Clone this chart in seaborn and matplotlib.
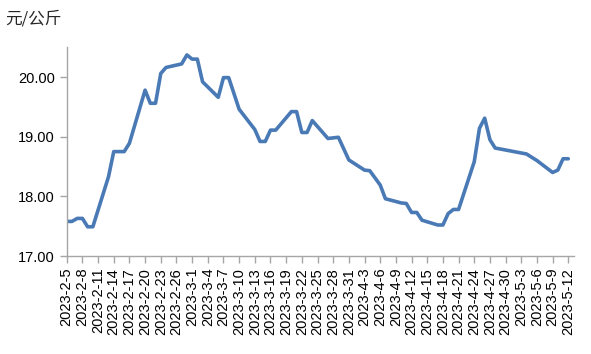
import numpy as np
import pandas as pd
import matplotlib
matplotlib.use("Agg")
import matplotlib.pyplot as plt
import seaborn as sns

# price vertices (day offset from 2023-2-5, yuan/kg)
start_date = pd.Timestamp("2023-02-05")
end_date = pd.Timestamp("2023-05-12")
days = [0, 1, 2, 3, 4, 5, 8, 9, 11, 12, 15, 16, 17, 18, 19, 22, 23, 24, 25, 26,
        29, 30, 31, 33, 36, 37, 38, 39, 40, 43, 44, 45, 46, 47, 50, 52, 54, 57,
        58, 60, 61, 64, 65, 66, 67, 68, 71, 72, 73, 74, 75, 78, 79, 80, 81, 82,
        88, 90, 93, 94, 95, 96]
prices = [17.58, 17.58, 17.63, 17.63, 17.49, 17.49, 18.33, 18.75, 18.75, 18.89,
          19.78, 19.56, 19.56, 20.06, 20.16, 20.22, 20.37, 20.30, 20.30, 19.92,
          19.66, 19.99, 19.99, 19.46, 19.12, 18.92, 18.92, 19.11, 19.11, 19.42,
          19.42, 19.07, 19.07, 19.27, 18.97, 18.99, 18.61, 18.44, 18.43, 18.19,
          17.96, 17.89, 17.88, 17.73, 17.73, 17.60, 17.52, 17.52, 17.71, 17.78,
          17.78, 18.58, 19.14, 19.31, 18.95, 18.81, 18.71, 18.60, 18.40, 18.44,
          18.63, 18.63]
yticks = [17.0, 18.0, 19.0, 20.0]
unit_label = "元/公斤"

df = pd.DataFrame({"day": days, "price": prices})

sns.set_style("ticks")
plt.rcParams["font.family"] = ["Liberation Sans", "Noto Sans CJK SC", "DejaVu Sans"]

fig = plt.figure(figsize=(5.91, 3.54), dpi=100)
ax = fig.add_axes([0.1129, 0.2768, 0.9704 - 0.1129, 0.8667 - 0.2768])

sns.lineplot(data=df, x="day", y="price", ax=ax, color="#4a7ab5", linewidth=2.6)

# tick every 3 days with dates like 2023-2-5
n_days = (end_date - start_date).days
tick_days = np.arange(0, n_days + 1, 3)
tick_dates = [start_date + pd.Timedelta(days=int(d)) for d in tick_days]
ax.set_xticks(tick_days)
ax.set_xticklabels([f"{d.year}-{d.month}-{d.day}" for d in tick_dates],
                   rotation=90, fontsize=10.5)
ax.set_xlim(0, n_days + 1)

ax.set_ylim(17, 20.5)
ax.set_yticks(yticks)
ax.set_yticklabels([f"{v:.2f}" for v in yticks], fontsize=10.5)

ax.set_xlabel("")
ax.set_ylabel("")
for side in ["top", "right"]:
    ax.spines[side].set_visible(False)
for side in ["left", "bottom"]:
    ax.spines[side].set_color("#a6a6a6")
    ax.spines[side].set_linewidth(1.0)
ax.tick_params(axis="both", colors="#a6a6a6", labelcolor="black", length=5, width=1.0)

fig.text(0.008, 1 - 19 / 354, unit_label, fontsize=12, va="center", ha="left",
         family=["Noto Sans CJK SC", "DejaVu Sans"])

fig.savefig("out.png", dpi=100)
